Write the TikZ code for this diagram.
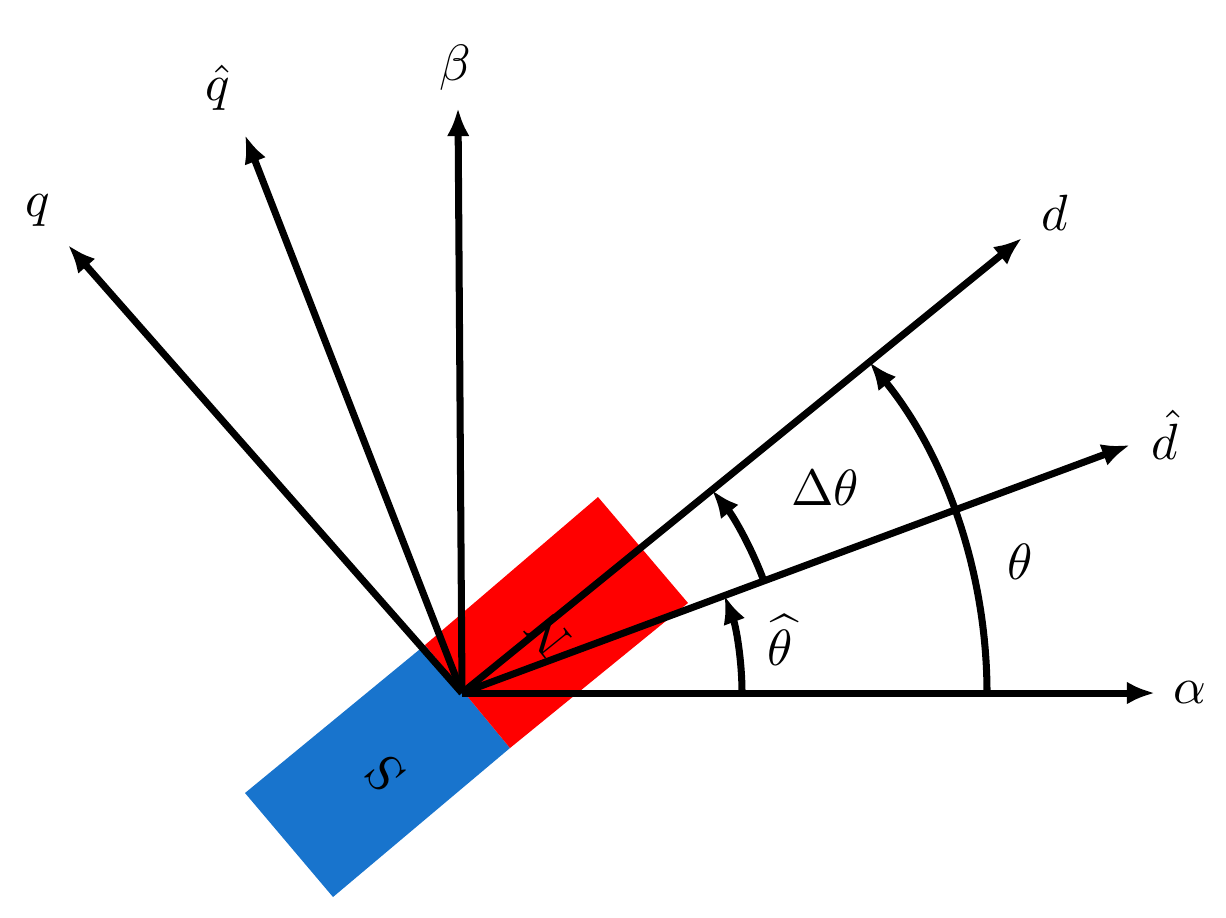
\documentclass[tikz,border=0pt]{standalone}
\usetikzlibrary{arrows.meta}
\definecolor{mblue}{RGB}{24,116,205}
\begin{document}
\begin{tikzpicture}[x=0.02cm,y=-0.02cm,
  ax/.style={line width=4pt,-{Latex[length=16pt,width=13pt]}},
  lbl/.style={scale=2.9}]
\useasboundingbox (0,0) rectangle (1226,917);
\fill[mblue] (425,645) -- (510,748) -- (333,897) -- (245,793) -- cycle;
\fill[red] (425,645) -- (598,497) -- (688,603) -- (510,748) -- cycle;
\node[lbl,rotate=129] (N) at (548,635) {N};
\node[lbl,rotate=129] (S) at (385,773) {S};
\coordinate (O) at (462,693);
\node[lbl] (la) at (1190,693) {$\alpha$};
\node[lbl] (lb) at (455,68) {$\beta$};
\node[lbl] (ld) at (1055,213) {$d$};
\node[lbl] (ldh) at (1165,435) {$\hat d$};
\node[lbl] (lqh) at (218,88) {$\hat q$};
\node[lbl] (lq) at (38,210) {$q$};
\coordinate (a) at (1155,693);
\coordinate (b) at (458,108);
\coordinate (d) at (1022,238);
\coordinate (dh) at (1130,445);
\coordinate (qh) at (245,135);
\coordinate (q) at (68,245);
\foreach \p in {a,b,d,dh,qh,q} \draw[ax] (O) -- (\p);
\draw[ax] (O) ++(0:280) arc[start angle=0,end angle=-20.4,radius=280];
\draw[ax] (O) ++(-20.4:322) arc[start angle=-20.4,end angle=-39.1,radius=322];
\draw[ax] (O) ++(0:525) arc[start angle=0,end angle=-39.1,radius=525];
\node[lbl] (ldt) at (825,488) {$\Delta\theta$};
\node[lbl] (lth) at (780,640) {$\widehat{\theta}$};
\node[lbl] (lt) at (1020,562) {$\theta$};
\end{tikzpicture}
\end{document}
